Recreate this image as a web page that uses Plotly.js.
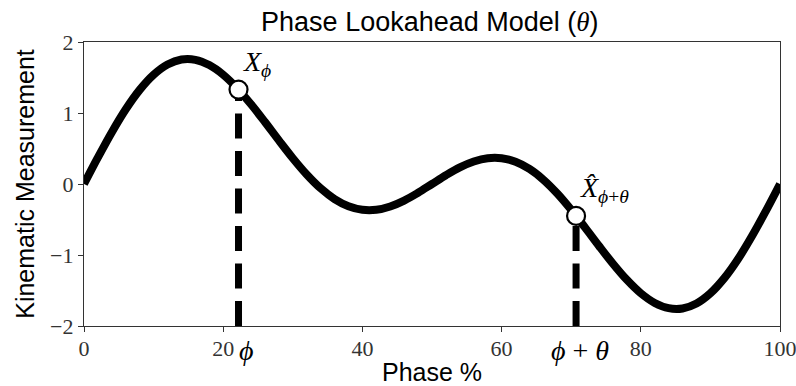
<!DOCTYPE html>
<html>
<head>
<meta charset="utf-8">
<script src="https://cdn.plot.ly/plotly-3.0.1.min.js"></script>
<style>html,body{margin:0;padding:0;background:#fff;}#chart{width:796px;height:386px;}</style>
</head>
<body>
<div id="chart"></div>
<script>
const phase = [0,2,4,6,8,10,12,14,16,18,20,22,24,26,28,30,32,34,36,38,40,42,44,46,48,50,
  52,54,56,58,60,62,64,66,68,70,72,74,76,78,80,82,84,86,88,90,92,94,96,98,100];
const measurement = [0,0.374,0.730,1.053,1.326,1.539,1.683,1.753,1.749,1.675,1.539,1.350,1.123,0.873,0.614,0.363,0.134,-0.061,-0.212,-0.313,-0.363,-0.363,-0.316,-0.233,-0.123,0,
  0.123,0.233,0.316,0.363,0.363,0.313,0.212,0.061,-0.134,-0.363,-0.614,-0.873,-1.123,-1.350,-1.539,-1.675,-1.749,-1.753,-1.683,-1.539,-1.326,-1.053,-0.730,-0.374,0];

// Current phase (phi) and lookahead phase (phi + theta)
const pointPhase = [22.2, 70.7];
const pointValue = [1.33, -0.45];
const pointLabels = ['<i>X</i><sub><i>ϕ</i></sub>', '<i>X̂</i><sub><i>ϕ</i>+<i>θ</i></sub>'];
const phaseTickLabels = ['<i>ϕ</i>', '<i>ϕ</i> + <i>θ</i>'];

const xTicks = [0,20,40,60,80,100];
const yTicks = [-2,-1,0,1,2];
const yMin = -2;

const serif = 'Liberation Serif, DejaVu Serif, Times New Roman, serif';
const sans = 'Liberation Sans, Arial, Helvetica, sans-serif';

const traces = [
  {x: phase, y: measurement, mode: 'lines', type: 'scatter',
   line: {color: '#000', width: 8, shape: 'spline'}, hoverinfo: 'skip', showlegend: false}
];
pointPhase.forEach((p, i) => {
  traces.push({x: [p, p], y: [yMin, pointValue[i]], mode: 'lines', type: 'scatter',
    line: {color: '#000', width: 7, dash: '25px,12.5px'}, showlegend: false, hoverinfo: 'skip'});
});
traces.push({x: pointPhase, y: pointValue, mode: 'markers', type: 'scatter',
  marker: {size: 18, color: '#fff', line: {color: '#000', width: 2.2}}, showlegend: false});

const annotations = [];
pointPhase.forEach((p, i) => {
  annotations.push({x: p, y: pointValue[i], xref: 'x', yref: 'y', text: pointLabels[i],
    showarrow: false, xanchor: 'left', yanchor: 'middle', xshift: 2, yshift: 26,
    font: {family: serif, size: 28, color: '#000'}});
  annotations.push({x: p, y: -0.085, xref: 'x', yref: 'paper', text: phaseTickLabels[i],
    showarrow: false, xanchor: 'center', yanchor: 'middle', xshift: (i === 0 ? 8 : 4),
    font: {family: serif, size: 28, color: '#000'}});
});

const layout = {
  width: 796, height: 386,
  margin: {l: 84, r: 16, t: 42, b: 60},
  paper_bgcolor: '#fff', plot_bgcolor: '#fff',
  title: {text: 'Phase Lookahead Model (<span style="font-family:Liberation Serif"><i>θ</i></span>)',
    font: {family: sans, size: 27, color: '#000'}, x: 0.54, xanchor: 'center', y: 0.945, yanchor: 'middle'},
  xaxis: {range: [0, 100], tickvals: xTicks, ticktext: xTicks.map(String),
    ticks: 'outside', ticklen: 5, tickwidth: 1, tickcolor: '#333',
    ticklabeloverflow: 'allow', ticklabelstandoff: -3,
    showline: true, linecolor: '#333', linewidth: 1.2, mirror: true,
    showgrid: false, zeroline: false,
    tickfont: {family: serif, size: 22, color: '#333'},
    title: {text: 'Phase %', font: {family: sans, size: 25, color: '#000'}, standoff: 4}},
  yaxis: {range: [-2, 2], tickvals: yTicks,
    ticks: 'outside', ticklen: 5, tickwidth: 1, tickcolor: '#333',
    showline: true, linecolor: '#333', linewidth: 1.2, mirror: true,
    showgrid: false, zeroline: false,
    tickfont: {family: serif, size: 22, color: '#333'},
    title: {text: 'Kinematic Measurement', font: {family: sans, size: 25, color: '#000'}, standoff: 8}},
  annotations: annotations
};

Plotly.newPlot('chart', traces, layout, {displayModeBar: false, staticPlot: true});
</script>
</body>
</html>
